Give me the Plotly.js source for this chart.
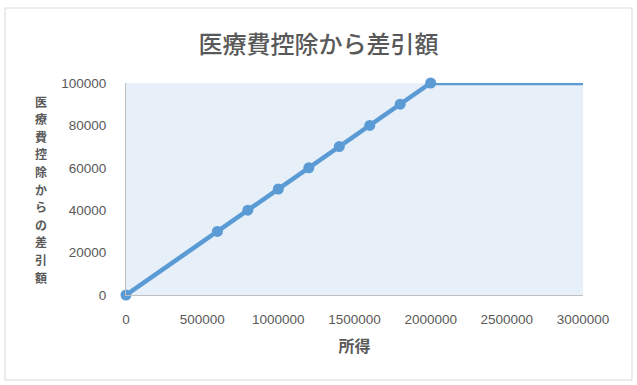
<!DOCTYPE html>
<html>
<head>
<meta charset="utf-8">
<script src="https://cdn.plot.ly/plotly-3.0.1.min.js"></script>
<style>html,body{margin:0;padding:0;background:#fff;}#chart{width:637px;height:385px;}</style>
</head>
<body>
<div id="chart"></div>
<script>
// Data
var incomeMarkers = [0, 600000, 800000, 1000000, 1200000, 1400000, 1600000, 1800000, 2000000];
var deductionMarkers = [0, 30000, 40000, 50000, 60000, 70000, 80000, 90000, 100000];
var incomeTail = [2000000, 3000000];
var deductionTail = [100000, 100000];
var xTicks = [0, 500000, 1000000, 1500000, 2000000, 2500000, 3000000];
var yTicks = [0, 20000, 40000, 60000, 80000, 100000];
var chartTitle = "医療費控除から差引額";
var xTitle = "所得";
var yTitle = "医療費控除からの差引額";

var lineColor = "#5b9bd5";
var fontFam = "'Noto Sans CJK JP', 'Noto Sans', sans-serif";
var tickFam = "'Liberation Sans', Arial, sans-serif";

var traces = [
  {x: incomeTail, y: deductionTail, mode: "lines", line: {color: lineColor, width: 4.5}, hoverinfo: "skip", showlegend: false, cliponaxis: false},
  {x: incomeMarkers, y: deductionMarkers, mode: "lines+markers", line: {color: lineColor, width: 4.5},
   marker: {color: lineColor, size: 11}, showlegend: false, cliponaxis: false}
];

// vertical stacked y-axis title: one annotation per character
var plotH = 212;
var chars = yTitle.split("");
var yTitleAnns = chars.map(function (ch, i) {
  var pxFromTop = 18 + i * 17.6; // from plot top (83) -> 医 at ~101
  return {text: ch, xref: "paper", yref: "paper", x: -85 / 457, y: 1 - pxFromTop / plotH,
    xanchor: "center", yanchor: "middle", showarrow: false, borderpad: 0,
    font: {size: 12, color: "#595959", family: fontFam, weight: "bold"}};
});

var layout = {
  width: 637, height: 385,
  margin: {l: 126, r: 54, t: 83, b: 90},
  paper_bgcolor: "#ffffff",
  plot_bgcolor: "#e7eff9",
  font: {family: fontFam, color: "#595959", size: 12},
  title: {text: chartTitle, font: {size: 24, color: "#595959", family: fontFam, weight: 500}, x: 0.5, xanchor: "center", y: 0.885, yanchor: "middle"},
  xaxis: {
    range: [0, 3000000], tickvals: xTicks, ticktext: xTicks.map(String),
    showgrid: false, zeroline: false, showline: true, linecolor: "#bfbfbf", linewidth: 1,
    ticks: "", ticklabelstandoff: 12, tickfont: {size: 13.5, color: "#595959", family: tickFam},
    title: {text: xTitle, font: {size: 16, color: "#595959", family: fontFam, weight: "bold"}, standoff: 14},
    fixedrange: true
  },
  yaxis: {
    range: [0, 100000], tickvals: yTicks, ticktext: yTicks.map(String),
    showgrid: false, zeroline: false, showline: true, linecolor: "#bfbfbf", linewidth: 1,
    ticks: "", ticklabelstandoff: 16, tickfont: {size: 13.5, color: "#595959", family: tickFam},
    fixedrange: true
  },
  annotations: yTitleAnns,
  shapes: [
    {type: "rect", xref: "paper", yref: "paper", x0: -121/457, x1: 506/457, y0: -85/212, y1: 287/212,
     line: {color: "#d9d9d9", width: 1}, fillcolor: "rgba(0,0,0,0)", layer: "below"}
  ]
};

Plotly.newPlot("chart", traces, layout, {displayModeBar: false, staticPlot: true});
</script>
</body>
</html>
